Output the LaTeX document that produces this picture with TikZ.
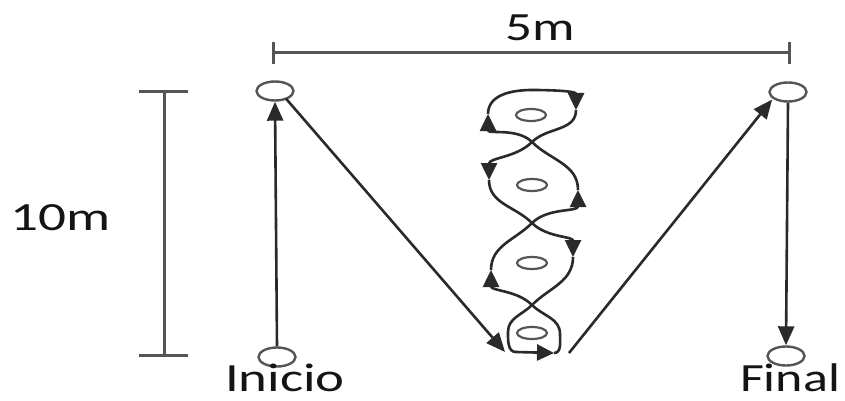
\documentclass[tikz,border=0pt]{standalone}
\usepackage{fontspec}
\setmainfont{Carlito}
\usetikzlibrary{arrows.meta,shapes.geometric}
\definecolor{ink}{HTML}{2A2A2A}
\definecolor{dimc}{HTML}{555555}
\definecolor{conec}{HTML}{555555}
\tikzset{
  arr/.style={draw=ink,line width=2.6pt,-{Triangle[length=19pt,width=16pt]}},
  seg/.style={draw=ink,line width=2.6pt},
  segarr/.style={draw=ink,line width=2.6pt,-{Triangle[length=17pt,width=16pt]}},
  dimline/.style={draw=dimc,line width=3pt},
  bigcone/.style={ellipse,draw=conec,line width=2.4pt,minimum width=37pt,minimum height=19pt,inner sep=0pt,fill=white},
  smallcone/.style={ellipse,draw=conec,line width=2.2pt,minimum width=30pt,minimum height=12pt,inner sep=0pt},
  lbl/.style={text=black!92,font=\fontsize{40}{48}\selectfont,inner sep=0pt}
}
\begin{document}
\begin{tikzpicture}[x=1pt,y=-1pt]
\useasboundingbox (0,0) rectangle (845,401);
\fill[white] (0,0) rectangle (845,401);
% dimension lines
\coordinate (dl) at (273,53);
\coordinate (dr) at (789,53);
\coordinate (vt) at (164,92);
\coordinate (vb) at (164,355);
\draw[dimline] (dl) -- (dr);
\draw[dimline] ([yshift=-11pt]dl) -- ([yshift=11pt]dl);
\draw[dimline] ([yshift=-11pt]dr) -- ([yshift=11pt]dr);
\draw[dimline] (vt) -- (vb);
\draw[dimline] ([xshift=-25pt]vt) -- ([xshift=24pt]vt);
\draw[dimline] ([xshift=-25pt]vb) -- ([xshift=24pt]vb);
\node[lbl] (m5) at (540,28) {\scalebox{1.33}[1]{5m}};
\node[lbl] (m10) at (61,218) {\scalebox{1.38}[1]{10m}};
% big cones
\node[bigcone] (tl) at (275,91) {};
\node[bigcone] (bl) at (277,357) {};
\node[bigcone] (tr) at (788,92) {};
\node[bigcone] (br) at (786,356) {};
\node[lbl,anchor=base] (ini) at (285,391) {\scalebox{1.37}[1]{Inicio}};
\node[lbl,anchor=base] (fin) at (790,391) {\scalebox{1.3}[1]{Final}};
% small cones
\node[smallcone] (c1) at (531,115) {};
\node[smallcone] (c2) at (532,185) {};
\node[smallcone] (c3) at (532,263) {};
\node[smallcone] (c4) at (532,333) {};
% main connectors
\coordinate (dlend) at (505,352);
\coordinate (drstart) at (569,353);
\draw[arr] (bl.north) -- (tl.south);
\draw[arr] (tr.south) -- (br.north);
\draw[arr] ([xshift=-3pt]tl.south east) -- (dlend);
\draw[arr] (drstart) -- ([xshift=-2pt]tr.south west);
% slalom points
\coordinate (T) at (532,90);
\coordinate (X1) at (532,142);
\coordinate (X2) at (532,223);
\coordinate (X3) at (532,305);
\coordinate (L1) at (488,114);
\coordinate (R1) at (576,110);
\coordinate (L2) at (489,180);
\coordinate (R2) at (578,190);
\coordinate (L3) at (491,270);
\coordinate (R3) at (573,257);
\coordinate (L4) at (508,332);
\coordinate (R4) at (560,334);
\coordinate (B1) at (516,352);
\coordinate (B2) at (554,353);
% up strand
\draw[segarr] (B1) -- (B2);
\draw[seg] (B2) to[out=0,in=270] (R4) to[out=90,in=-45] (X3);
\draw[segarr] (X3) to[out=135,in=270] (L3);
\draw[seg] (L3) to[out=90,in=225] (X2);
\draw[segarr] (X2) to[out=45,in=270] (R2);
\draw[seg] (R2) to[out=90,in=-45] (X1);
\draw[segarr] (X1) to[out=135,in=270] (L1);
\draw[seg] (L1) to[out=90,in=180] (T);
\draw[segarr] (T) to[out=0,in=90] (R1);
% down strand
\draw[seg] (R1) to[out=270,in=45] (X1);
\draw[segarr] (X1) to[out=225,in=90] (L2);
\draw[seg] (L2) to[out=270,in=135] (X2);
\draw[segarr] (X2) to[out=-45,in=90] (R3);
\draw[seg] (R3) to[out=270,in=45] (X3);
\draw[seg] (X3) to[out=225,in=90] (L4) to[out=270,in=180] (B1);
\end{tikzpicture}
\end{document}
